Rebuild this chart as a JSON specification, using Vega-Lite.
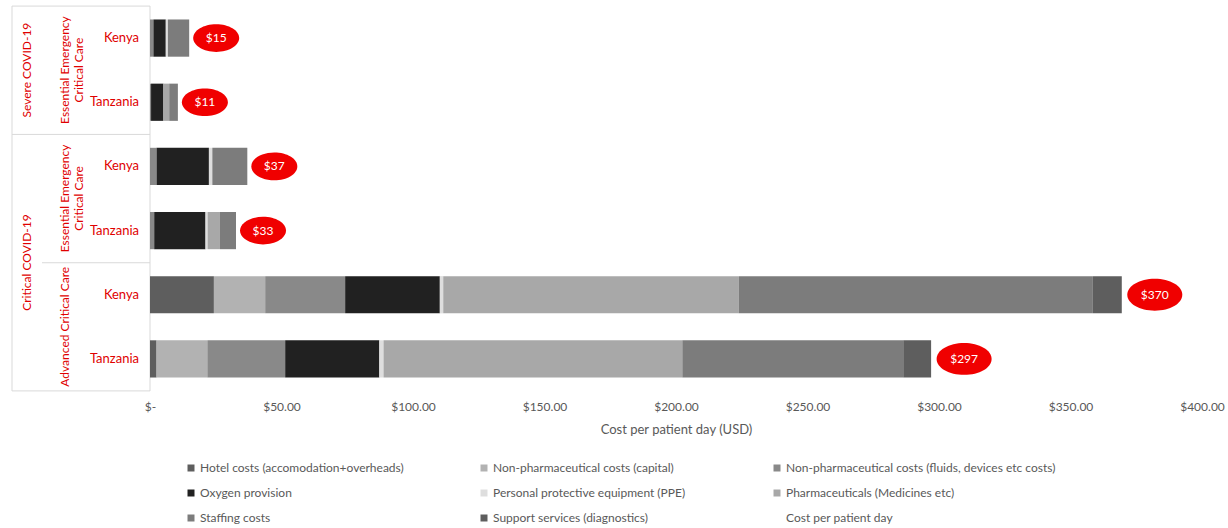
{
  "$schema": "https://vega.github.io/schema/vega-lite/v6.json",
  "padding": {"left": 11, "top": 5, "right": 5, "bottom": 5},
  "background": "white",
  "spacing": 0,
  "bounds": "flush",
  "config": {"view": {"stroke": null}, "font": "Lato"},
  "datasets": {
    "costs": [
      {"row": "S-EECC-Kenya", "category": "Non-pharmaceutical costs (fluids, devices etc costs)", "cost": 1.3},
      {"row": "S-EECC-Kenya", "category": "Oxygen provision", "cost": 4.7},
      {"row": "S-EECC-Kenya", "category": "Personal protective equipment (PPE)", "cost": 0.8},
      {"row": "S-EECC-Kenya", "category": "Staffing costs", "cost": 8.1},
      {"row": "S-EECC-Tanzania", "category": "Non-pharmaceutical costs (fluids, devices etc costs)", "cost": 0.4},
      {"row": "S-EECC-Tanzania", "category": "Oxygen provision", "cost": 4.7},
      {"row": "S-EECC-Tanzania", "category": "Pharmaceuticals (Medicines etc)", "cost": 2.2},
      {"row": "S-EECC-Tanzania", "category": "Staffing costs", "cost": 3.3},
      {"row": "C-EECC-Kenya", "category": "Non-pharmaceutical costs (fluids, devices etc costs)", "cost": 2.5},
      {"row": "C-EECC-Kenya", "category": "Oxygen provision", "cost": 19.9},
      {"row": "C-EECC-Kenya", "category": "Personal protective equipment (PPE)", "cost": 1.3},
      {"row": "C-EECC-Kenya", "category": "Staffing costs", "cost": 13.3},
      {"row": "C-EECC-Tanzania", "category": "Non-pharmaceutical costs (fluids, devices etc costs)", "cost": 1.6},
      {"row": "C-EECC-Tanzania", "category": "Oxygen provision", "cost": 19.5},
      {"row": "C-EECC-Tanzania", "category": "Personal protective equipment (PPE)", "cost": 0.8},
      {"row": "C-EECC-Tanzania", "category": "Pharmaceuticals (Medicines etc)", "cost": 4.7},
      {"row": "C-EECC-Tanzania", "category": "Staffing costs", "cost": 6.1},
      {"row": "C-ACC-Kenya", "category": "Hotel costs (accomodation+overheads)", "cost": 24.3},
      {"row": "C-ACC-Kenya", "category": "Non-pharmaceutical costs (capital)", "cost": 19.5},
      {"row": "C-ACC-Kenya", "category": "Non-pharmaceutical costs (fluids, devices etc costs)", "cost": 30.4},
      {"row": "C-ACC-Kenya", "category": "Oxygen provision", "cost": 36.0},
      {"row": "C-ACC-Kenya", "category": "Personal protective equipment (PPE)", "cost": 1.3},
      {"row": "C-ACC-Kenya", "category": "Pharmaceuticals (Medicines etc)", "cost": 112.4},
      {"row": "C-ACC-Kenya", "category": "Staffing costs", "cost": 134.6},
      {"row": "C-ACC-Kenya", "category": "Support services (diagnostics)", "cost": 11.0},
      {"row": "C-ACC-Tanzania", "category": "Hotel costs (accomodation+overheads)", "cost": 2.5},
      {"row": "C-ACC-Tanzania", "category": "Non-pharmaceutical costs (capital)", "cost": 19.3},
      {"row": "C-ACC-Tanzania", "category": "Non-pharmaceutical costs (fluids, devices etc costs)", "cost": 29.6},
      {"row": "C-ACC-Tanzania", "category": "Oxygen provision", "cost": 35.8},
      {"row": "C-ACC-Tanzania", "category": "Personal protective equipment (PPE)", "cost": 1.6},
      {"row": "C-ACC-Tanzania", "category": "Pharmaceuticals (Medicines etc)", "cost": 113.6},
      {"row": "C-ACC-Tanzania", "category": "Staffing costs", "cost": 84.0},
      {"row": "C-ACC-Tanzania", "category": "Support services (diagnostics)", "cost": 10.6}
    ],
    "totals": [
      {"row": "S-EECC-Kenya", "total": 14.9, "label": "$15"},
      {"row": "S-EECC-Tanzania", "total": 10.6, "label": "$11"},
      {"row": "C-EECC-Kenya", "total": 37.0, "label": "$37"},
      {"row": "C-EECC-Tanzania", "total": 32.7, "label": "$33"},
      {"row": "C-ACC-Kenya", "total": 369.5, "label": "$370"},
      {"row": "C-ACC-Tanzania", "total": 297.0, "label": "$297"}
    ],
    "rows": [
      {"row": "S-EECC-Kenya", "country": "Kenya"},
      {"row": "S-EECC-Tanzania", "country": "Tanzania"},
      {"row": "C-EECC-Kenya", "country": "Kenya"},
      {"row": "C-EECC-Tanzania", "country": "Tanzania"},
      {"row": "C-ACC-Kenya", "country": "Kenya"},
      {"row": "C-ACC-Tanzania", "country": "Tanzania"}
    ],
    "groups": [
      {"row": "S-EECC-Kenya", "label": "Severe COVID-19"},
      {"row": "C-EECC-Tanzania", "label": "Critical COVID-19"}
    ],
    "subgroups": [
      {"row": "S-EECC-Kenya", "label": "Essential Emergency|Critical Care"},
      {"row": "C-EECC-Kenya", "label": "Essential Emergency|Critical Care"},
      {"row": "C-ACC-Kenya", "label": "Advanced Critical Care"}
    ],
    "topLines": [{"row": "S-EECC-Kenya"}, {"row": "C-EECC-Kenya"}],
    "subLines": [{"row": "C-ACC-Kenya"}],
    "bottomLines": [{"row": "C-ACC-Tanzania"}],
    "one": [{"k": 1}]
  },
  "resolve": {"scale": {"color": "shared"}, "legend": {"color": "shared"}},
  "hconcat": [
    {
      "width": 30,
      "height": 385,
      "layer": [
        {
          "data": {"name": "groups"},
          "mark": {"type": "text", "angle": 270, "fontSize": 12, "color": "#e00000", "yOffset": 32, "baseline": "middle", "align": "center"},
          "encoding": {
            "y": {"field": "row", "type": "nominal", "scale": {"domain": ["S-EECC-Kenya", "S-EECC-Tanzania", "C-EECC-Kenya", "C-EECC-Tanzania", "C-ACC-Kenya", "C-ACC-Tanzania"], "paddingInner": 0, "paddingOuter": 0}, "axis": null},
            "text": {"field": "label", "type": "nominal"}
          }
        },
        {
          "data": {"name": "topLines"},
          "mark": {"type": "rule", "color": "#d9d9d9", "strokeWidth": 1, "yOffset": -32},
          "encoding": {"y": {"field": "row", "type": "nominal", "axis": null}}
        },
        {
          "data": {"name": "bottomLines"},
          "mark": {"type": "rule", "color": "#d9d9d9", "strokeWidth": 1, "yOffset": 32},
          "encoding": {"y": {"field": "row", "type": "nominal", "axis": null}}
        },
        {
          "data": {"name": "one"},
          "mark": {"type": "rule", "color": "#d9d9d9", "strokeWidth": 1},
          "encoding": {"x": {"value": 0}}
        }
      ]
    },
    {
      "width": 46,
      "height": 385,
      "layer": [
        {
          "data": {"name": "subgroups"},
          "mark": {"type": "text", "angle": 270, "fontSize": 12, "color": "#e00000", "yOffset": 32, "baseline": "middle", "align": "center", "lineBreak": "|", "lineHeight": 14},
          "encoding": {
            "y": {"field": "row", "type": "nominal", "scale": {"domain": ["S-EECC-Kenya", "S-EECC-Tanzania", "C-EECC-Kenya", "C-EECC-Tanzania", "C-ACC-Kenya", "C-ACC-Tanzania"], "paddingInner": 0, "paddingOuter": 0}, "axis": null},
            "text": {"field": "label", "type": "nominal"}
          }
        },
        {
          "data": {"name": "topLines"},
          "mark": {"type": "rule", "color": "#d9d9d9", "strokeWidth": 1, "yOffset": -32},
          "encoding": {"y": {"field": "row", "type": "nominal", "axis": null}}
        },
        {
          "data": {"name": "subLines"},
          "mark": {"type": "rule", "color": "#d9d9d9", "strokeWidth": 1, "yOffset": -32},
          "encoding": {"y": {"field": "row", "type": "nominal", "axis": null}}
        },
        {
          "data": {"name": "bottomLines"},
          "mark": {"type": "rule", "color": "#d9d9d9", "strokeWidth": 1, "yOffset": 32},
          "encoding": {"y": {"field": "row", "type": "nominal", "axis": null}}
        }
      ]
    },
    {
      "width": 62,
      "height": 385,
      "layer": [
        {
          "data": {"name": "rows"},
          "mark": {"type": "text", "fontSize": 13, "color": "#e00000", "align": "right", "baseline": "middle", "dx": -11},
          "encoding": {
            "y": {"field": "row", "type": "nominal", "scale": {"domain": ["S-EECC-Kenya", "S-EECC-Tanzania", "C-EECC-Kenya", "C-EECC-Tanzania", "C-ACC-Kenya", "C-ACC-Tanzania"], "paddingInner": 0, "paddingOuter": 0}, "axis": null},
            "x": {"value": "width"},
            "text": {"field": "country", "type": "nominal"}
          }
        },
        {
          "data": {"name": "topLines"},
          "mark": {"type": "rule", "color": "#d9d9d9", "strokeWidth": 1, "yOffset": -32},
          "encoding": {"y": {"field": "row", "type": "nominal", "axis": null}}
        },
        {
          "data": {"name": "subLines"},
          "mark": {"type": "rule", "color": "#d9d9d9", "strokeWidth": 1, "yOffset": -32},
          "encoding": {"y": {"field": "row", "type": "nominal", "axis": null}}
        },
        {
          "data": {"name": "bottomLines"},
          "mark": {"type": "rule", "color": "#d9d9d9", "strokeWidth": 1, "yOffset": 32},
          "encoding": {"y": {"field": "row", "type": "nominal", "axis": null}}
        },
        {
          "data": {"name": "one"},
          "mark": {"type": "rule", "color": "#d9d9d9", "strokeWidth": 1},
          "encoding": {"x": {"value": "width"}}
        }
      ]
    },
    {
      "width": 1052,
      "height": 385,
      "layer": [
        {
          "data": {"name": "costs"},
          "mark": {"type": "bar"},
          "encoding": {
            "y": {"field": "row", "type": "nominal", "scale": {"domain": ["S-EECC-Kenya", "S-EECC-Tanzania", "C-EECC-Kenya", "C-EECC-Tanzania", "C-ACC-Kenya", "C-ACC-Tanzania"], "paddingInner": 0.42, "paddingOuter": 0.21}, "axis": null},
            "x": {"field": "cost", "type": "quantitative", "stack": "zero", "scale": {"domain": [0, 400], "nice": false}, "title": "Cost per patient day (USD)",
              "axis": {"values": [0, 50, 100, 150, 200, 250, 300, 350, 400], "labelExpr": "datum.value === 0 ? '$-' : '$' + format(datum.value, '.2f')", "grid": false, "domain": false, "ticks": false, "labelFlush": false, "labelPadding": 10, "labelFontSize": 12, "labelColor": "#595959", "titleFontSize": 13, "titleFontWeight": "normal", "titleColor": "#595959", "titlePadding": 11}},
            "color": {"field": "category", "type": "nominal",
              "scale": {"domain": ["Hotel costs (accomodation+overheads)", "Non-pharmaceutical costs (capital)", "Non-pharmaceutical costs (fluids, devices etc costs)", "Oxygen provision", "Personal protective equipment (PPE)", "Pharmaceuticals (Medicines etc)", "Staffing costs", "Support services (diagnostics)", "Cost per patient day"],
                "range": ["#5e5e5e", "#b2b2b2", "#898989", "#212121", "#dedede", "#a8a8a8", "#7c7c7c", "#5e5e5e", "#ffffff"]},
              "legend": {"title": null, "orient": "none", "legendX": 173, "legendY": 456, "direction": "horizontal", "columns": 3, "gridAlign": "all", "columnPadding": 8, "rowPadding": 13, "symbolType": "square", "symbolSize": 49, "symbolStrokeWidth": 0, "labelFontSize": 12, "labelColor": "#595959", "labelOffset": 3, "labelLimit": 400, "padding": 0}},
            "order": {"field": "category", "sort": "ascending"}
          }
        },
        {
          "data": {"name": "totals"},
          "transform": [{"filter": "datum.total < 100"}],
          "mark": {"type": "point", "filled": true, "opacity": 1, "color": "#f00000", "xOffset": 27, "size": 2116, "shape": "M -1 0 A 1 0.6 0 1 0 1 0 A 1 0.6 0 1 0 -1 0 Z"},
          "encoding": {
            "y": {"field": "row", "type": "nominal", "axis": null},
            "x": {"field": "total", "type": "quantitative", "title": "Cost per patient day (USD)"}
          }
        },
        {
          "data": {"name": "totals"},
          "transform": [{"filter": "datum.total >= 100"}],
          "mark": {"type": "point", "filled": true, "opacity": 1, "color": "#f00000", "xOffset": 33, "size": 3025, "shape": "M -1 0 A 1 0.58 0 1 0 1 0 A 1 0.58 0 1 0 -1 0 Z"},
          "encoding": {
            "y": {"field": "row", "type": "nominal", "axis": null},
            "x": {"field": "total", "type": "quantitative", "title": "Cost per patient day (USD)"}
          }
        },
        {
          "data": {"name": "totals"},
          "transform": [{"filter": "datum.total < 100"}],
          "mark": {"type": "text", "color": "white", "fontSize": 12, "xOffset": 27, "baseline": "middle", "align": "center"},
          "encoding": {
            "y": {"field": "row", "type": "nominal", "axis": null},
            "x": {"field": "total", "type": "quantitative", "title": "Cost per patient day (USD)"},
            "text": {"field": "label", "type": "nominal"}
          }
        },
        {
          "data": {"name": "totals"},
          "transform": [{"filter": "datum.total >= 100"}],
          "mark": {"type": "text", "color": "white", "fontSize": 12, "xOffset": 33, "baseline": "middle", "align": "center"},
          "encoding": {
            "y": {"field": "row", "type": "nominal", "axis": null},
            "x": {"field": "total", "type": "quantitative", "title": "Cost per patient day (USD)"},
            "text": {"field": "label", "type": "nominal"}
          }
        }
      ]
    }
  ]
}
